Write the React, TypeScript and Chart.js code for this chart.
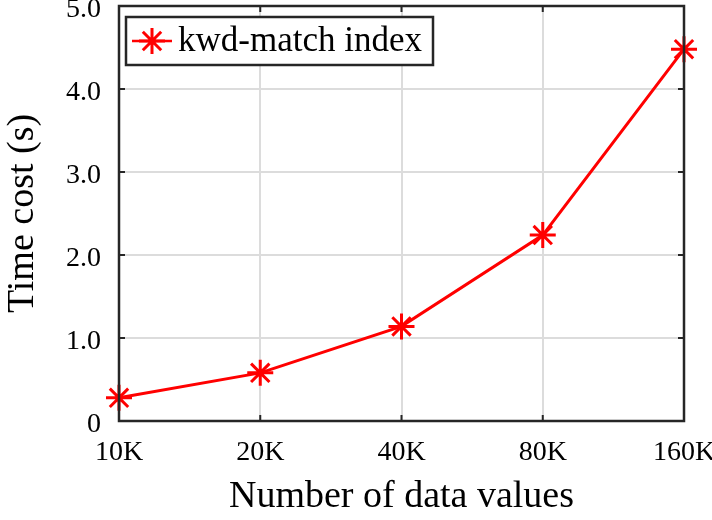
import React, { useEffect, useRef } from "react";
import { Chart, registerables } from "chart.js";

Chart.register(...registerables);

const categories = ["10K", "20K", "40K", "80K", "160K"];
const kwdMatch = [0.28, 0.58, 1.14, 2.24, 4.48];
const seriesLabel = "kwd-match index";
const yTicks = [0, 1, 2, 3, 4, 5];
const xTitle = "Number of data values";
const yTitle = "Time cost (s)";

const FONT = "'Liberation Serif', 'Times New Roman', serif";

const framePlugin = {
  id: "frame",
  afterDraw(chart: any) {
    const { ctx, chartArea: a } = chart;
    const xs = chart.scales.x;
    const ys = chart.scales.y;
    ctx.save();
    ctx.strokeStyle = "#262626";
    ctx.lineWidth = 2.5;
    ctx.strokeRect(a.left, a.top, a.right - a.left, a.bottom - a.top);
    ctx.lineWidth = 2;
    const t = 6;
    ctx.beginPath();
    categories.forEach((_, i) => {
      const x = xs.getPixelForValue(i);
      ctx.moveTo(x, a.bottom);
      ctx.lineTo(x, a.bottom - t);
      ctx.moveTo(x, a.top);
      ctx.lineTo(x, a.top + t);
    });
    yTicks.forEach((v) => {
      const y = ys.getPixelForValue(v);
      ctx.moveTo(a.left, y);
      ctx.lineTo(a.left + t, y);
      ctx.moveTo(a.right, y);
      ctx.lineTo(a.right - t, y);
    });
    ctx.stroke();

    // legend
    const bx = a.left + 7, by = a.top + 11, bw = 307, bh = 48;
    ctx.fillStyle = "#ffffff";
    ctx.fillRect(bx, by, bw, bh);
    ctx.strokeStyle = "#262626";
    ctx.lineWidth = 2.5;
    ctx.strokeRect(bx, by, bw, bh);
    const cy = by + bh / 2;
    const cx = bx + 26;
    ctx.strokeStyle = "#ff0000";
    ctx.lineWidth = 2.5;
    ctx.beginPath();
    ctx.moveTo(bx + 6, cy);
    ctx.lineTo(bx + 46, cy);
    ctx.stroke();
    ctx.lineWidth = 3;
    const r = 13;
    ctx.beginPath();
    for (let k = 0; k < 4; k++) {
      const ang = (k * Math.PI) / 4;
      ctx.moveTo(cx - r * Math.cos(ang), cy - r * Math.sin(ang));
      ctx.lineTo(cx + r * Math.cos(ang), cy + r * Math.sin(ang));
    }
    ctx.stroke();
    ctx.fillStyle = "#000000";
    ctx.font = `35px ${FONT}`;
    ctx.textBaseline = "middle";
    ctx.textAlign = "left";
    ctx.fillText(chart.data.datasets[0].label, bx + 52, cy + 1);
    ctx.restore();
  },
};

export default function App() {
  const ref = useRef<HTMLCanvasElement | null>(null);
  useEffect(() => {
    document.body.style.margin = "0";
    const chart = new Chart(ref.current as HTMLCanvasElement, {
      type: "line",
      data: {
        labels: categories,
        datasets: [
          {
            label: seriesLabel,
            data: kwdMatch,
            borderColor: "#ff0000",
            backgroundColor: "#ff0000",
            borderWidth: 3,
            pointStyle: "star",
            pointRadius: 13,
            pointBorderWidth: 3,
            pointBorderColor: "#ff0000",
            tension: 0,
            clip: false,
          },
        ],
      },
      options: {
        animation: false,
        responsive: false,
        layout: { autoPadding: false, padding: { top: 6, right: 28, left: 0, bottom: 0 } },
        plugins: { legend: { display: false }, tooltip: { enabled: false } },
        scales: {
          x: {
            type: "category",
            offset: false,
            grid: { color: "#dcdcdc", lineWidth: 2, drawTicks: false },
            border: { display: false },
            ticks: { color: "#000", font: { family: FONT, size: 28 }, padding: 15, maxRotation: 0 },
            title: { display: true, text: xTitle, color: "#000", font: { family: FONT, size: 38 }, padding: { top: 0, bottom: 0 } },
            afterFit: (s: any) => { s.height = 99; s.paddingLeft = 0; s.paddingRight = 0; },
          },
          y: {
            min: 0,
            max: 5,
            afterBuildTicks: (s: any) => { s.ticks = yTicks.map((v) => ({ value: v })); },
            grid: { color: "#dcdcdc", lineWidth: 2, drawTicks: false },
            border: { display: false },
            ticks: {
              color: "#000",
              font: { family: FONT, size: 28 },
              padding: 18,
              labelOffset: 4,
              callback: (v: any) => (v === 0 ? "0" : Number(v).toFixed(1)),
            },
            title: { display: true, text: yTitle, color: "#000", font: { family: FONT, size: 38 }, padding: { top: 0, bottom: 0 } },
            afterFit: (s: any) => { s.width = 119; s.paddingTop = 0; s.paddingBottom = 0; },
          },
        },
      },
      plugins: [framePlugin],
    });
    return () => chart.destroy();
  }, []);
  return (
    <div style={{ position: "absolute", left: 0, top: 0, width: 712, height: 520 }}>
      <canvas ref={ref} width={712} height={520} />
    </div>
  );
}
